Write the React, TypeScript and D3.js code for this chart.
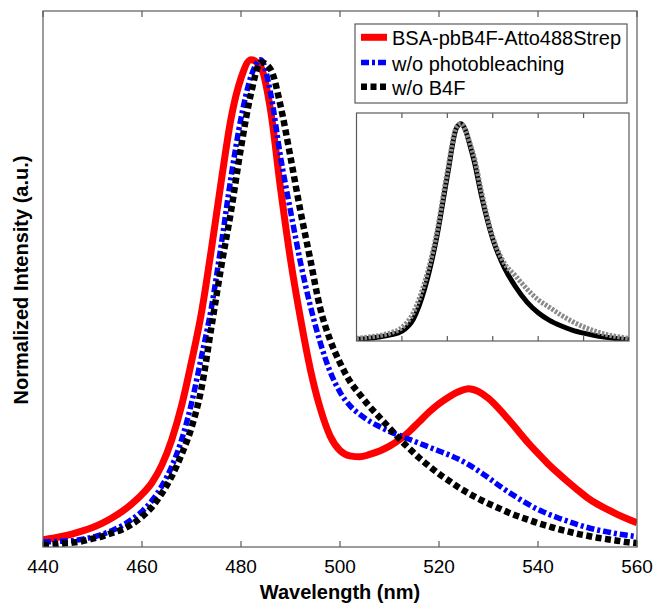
import React from "react";
import * as d3 from "d3";

// emission spectra, 440-560 nm, 2 nm steps
const wavelengths = [
  440, 442, 444, 446, 448, 450, 452, 454, 456, 458,
  460, 462, 464, 466, 468, 470, 472, 474, 476, 478,
  480, 482, 484, 486, 488, 490, 492, 494, 496, 498,
  500, 502, 504, 506, 508, 510, 512, 514, 516, 518,
  520, 522, 524, 526, 528, 530, 532, 534, 536, 538,
  540, 542, 544, 546, 548, 550, 552, 554, 556, 558,
  560,
];

const bsaStrep = [
  0.015, 0.018, 0.022, 0.027, 0.033, 0.04, 0.049, 0.06, 0.073, 0.089,
  0.108, 0.132, 0.168, 0.22, 0.29, 0.38, 0.48, 0.61, 0.75, 0.88,
  0.962, 1.0, 0.985, 0.895, 0.735, 0.59, 0.47, 0.365, 0.285, 0.228,
  0.198, 0.187, 0.185, 0.19, 0.197, 0.207, 0.22, 0.237, 0.257, 0.277,
  0.294, 0.308, 0.319, 0.325, 0.319, 0.305, 0.285, 0.262, 0.238, 0.214,
  0.192, 0.171, 0.152, 0.134, 0.117, 0.101, 0.088, 0.077, 0.067, 0.058,
  0.05,
];

const noBleach = [
  0.01, 0.011, 0.012, 0.013, 0.016, 0.02, 0.026, 0.034, 0.044, 0.057,
  0.073, 0.095, 0.125, 0.165, 0.22, 0.295, 0.39, 0.49, 0.62, 0.76,
  0.88, 0.965, 1.0, 0.93, 0.8, 0.69, 0.585, 0.495, 0.42, 0.36,
  0.318, 0.29, 0.272, 0.258, 0.247, 0.237, 0.229, 0.221, 0.213, 0.205,
  0.197, 0.189, 0.18, 0.169, 0.156, 0.142, 0.127, 0.113, 0.1, 0.088,
  0.077, 0.068, 0.06, 0.053, 0.046, 0.04, 0.035, 0.031, 0.027, 0.024,
  0.021,
];

const noB4F = [
  0.004, 0.005, 0.007, 0.009, 0.012, 0.017, 0.022, 0.029, 0.036, 0.047,
  0.062, 0.082, 0.11, 0.145, 0.19, 0.245, 0.325, 0.45, 0.575, 0.69,
  0.82, 0.93, 0.995, 0.98, 0.905, 0.8, 0.69, 0.59, 0.49, 0.425,
  0.378, 0.34, 0.313, 0.288, 0.266, 0.244, 0.222, 0.202, 0.183, 0.166,
  0.15, 0.136, 0.122, 0.11, 0.099, 0.089, 0.08, 0.071, 0.063, 0.056,
  0.049, 0.043, 0.037, 0.032, 0.027, 0.023, 0.019, 0.016, 0.013, 0.01,
  0.008,
];

// inset spectra
const insetWavelengths = [
  440, 445, 450, 455, 460, 465, 470, 475, 480, 484, 486, 488, 490, 492,
  495, 500, 505, 510, 515, 520, 525, 530, 535, 540, 545, 550, 555, 560,
];
const insetBlack = [
  0.008, 0.012, 0.018, 0.028, 0.045, 0.1, 0.24, 0.46, 0.76, 0.98, 1.0, 0.97, 0.9, 0.82,
  0.67, 0.47, 0.34, 0.25, 0.18, 0.13, 0.095, 0.07, 0.05, 0.036, 0.025, 0.017, 0.01, 0.006,
];
const insetGrey = [
  0.012, 0.018, 0.025, 0.038, 0.062, 0.13, 0.27, 0.48, 0.78, 0.985, 1.0, 0.97, 0.91, 0.84,
  0.69, 0.48, 0.36, 0.3, 0.24, 0.19, 0.155, 0.12, 0.09, 0.065, 0.045, 0.03, 0.02, 0.012,
];

const xTicks = [440, 460, 480, 500, 520, 540, 560];

const series = [
  { name: "BSA-pbB4F-Atto488Strep", values: bsaStrep, color: "#ff0000", width: 7, dash: null },
  { name: "w/o photobleaching", values: noBleach, color: "#0000ff", width: 5.5, dash: "8 3 3 3" },
  { name: "w/o B4F", values: noB4F, color: "#000000", width: 6.5, dash: "6 3.5" },
];

const W = 661;
const H = 605;
const plot = { left: 43, right: 637, top: 11, bottom: 547 };
const inset = { left: 356.5, right: 629, top: 113, bottom: 341 };
const axisColor = "#5a5a5a";
const font = "'Liberation Sans', Arial, Helvetica, sans-serif";

export default function App() {
  const x = d3.scaleLinear().domain([440, 560]).range([plot.left, plot.right]);
  const y = d3.scaleLinear().domain([0, 1.1]).range([plot.bottom, plot.top]);
  const line = (vals: number[]) =>
    d3
      .line<number>()
      .x((_, i) => x(wavelengths[i]))
      .y((d) => y(d))
      .curve(d3.curveMonotoneX)(vals) || "";

  const ix = d3.scaleLinear().domain([440, 560]).range([inset.left, inset.right]);
  const iy = d3.scaleLinear().domain([0, 1.05]).range([inset.bottom, inset.top]);
  const insetLine = (vals: number[]) =>
    d3
      .line<number>()
      .x((_, i) => ix(insetWavelengths[i]))
      .y((d) => iy(d))
      .curve(d3.curveMonotoneX)(vals) || "";

  const legendRows = [37.3, 62.5, 86.7];

  return (
    <svg
      width={W}
      height={H}
      style={{ position: "absolute", left: 0, top: 0, background: "#fff" }}
      fontFamily={font}
    >
      <defs>
        <clipPath id="plotClip">
          <rect x={plot.left} y={plot.top} width={plot.right - plot.left} height={plot.bottom - plot.top} />
        </clipPath>
        <clipPath id="insetClip">
          <rect x={inset.left} y={inset.top} width={inset.right - inset.left} height={inset.bottom - inset.top} />
        </clipPath>
      </defs>
      <rect width={W} height={H} fill="#fff" />

      {/* main curves */}
      <g clipPath="url(#plotClip)" fill="none">
        {series.map((s) => (
          <path
            key={s.name}
            d={line(s.values)}
            stroke={s.color}
            strokeWidth={s.width}
            strokeDasharray={s.dash || undefined}
            strokeLinejoin="round"
          />
        ))}
      </g>

      {/* axes box + ticks */}
      <rect
        x={plot.left}
        y={plot.top}
        width={plot.right - plot.left}
        height={plot.bottom - plot.top}
        fill="none"
        stroke={axisColor}
        strokeWidth={1.2}
      />
      {xTicks.map((t) => (
        <g key={t}>
          <line x1={x(t)} x2={x(t)} y1={plot.bottom} y2={plot.bottom - 6} stroke={axisColor} strokeWidth={1.2} />
          <line x1={x(t)} x2={x(t)} y1={plot.top} y2={plot.top + 6} stroke={axisColor} strokeWidth={1.2} />
          <text x={x(t)} y={573} textAnchor="middle" fontSize={19} fill="#000">
            {t}
          </text>
        </g>
      ))}
      <text x={(plot.left + plot.right) / 2} y={599} textAnchor="middle" fontSize={20} fontWeight="bold">
        Wavelength (nm)
      </text>
      <text
        transform={`translate(28,${(plot.top + plot.bottom) / 2 + 1}) rotate(-90)`}
        textAnchor="middle"
        fontSize={20}
        fontWeight="bold"
      >
        Normalized Intensity (a.u.)
      </text>

      {/* legend */}
      <rect x={355} y={24} width={272} height={79} fill="#fff" stroke={axisColor} strokeWidth={1.2} />
      {series.map((s, i) => (
        <g key={s.name}>
          <line
            x1={361}
            x2={387}
            y1={legendRows[i]}
            y2={legendRows[i]}
            stroke={s.color}
            strokeWidth={s.width}
            strokeDasharray={s.dash || undefined}
          />
          <text x={392} y={legendRows[i] + 8} fontSize={20}>
            {s.name}
          </text>
        </g>
      ))}

      {/* inset */}
      <rect
        x={inset.left}
        y={inset.top}
        width={inset.right - inset.left}
        height={inset.bottom - inset.top}
        fill="#fff"
      />
      <g clipPath="url(#insetClip)" fill="none">
        <path d={insetLine(insetBlack)} stroke="#000" strokeWidth={5} strokeLinejoin="round" />
        <path d={insetLine(insetGrey)} stroke="#8a8a8a" strokeWidth={5} strokeDasharray="2.5 1.5" />
      </g>
      <rect
        x={inset.left}
        y={inset.top}
        width={inset.right - inset.left}
        height={inset.bottom - inset.top}
        fill="none"
        stroke={axisColor}
        strokeWidth={1.2}
      />
      {xTicks.slice(1, -1).map((t) => (
        <g key={"i" + t}>
          <line x1={ix(t)} x2={ix(t)} y1={inset.bottom} y2={inset.bottom - 5} stroke={axisColor} strokeWidth={1.2} />
          <line x1={ix(t)} x2={ix(t)} y1={inset.top} y2={inset.top + 5} stroke={axisColor} strokeWidth={1.2} />
        </g>
      ))}
    </svg>
  );
}
